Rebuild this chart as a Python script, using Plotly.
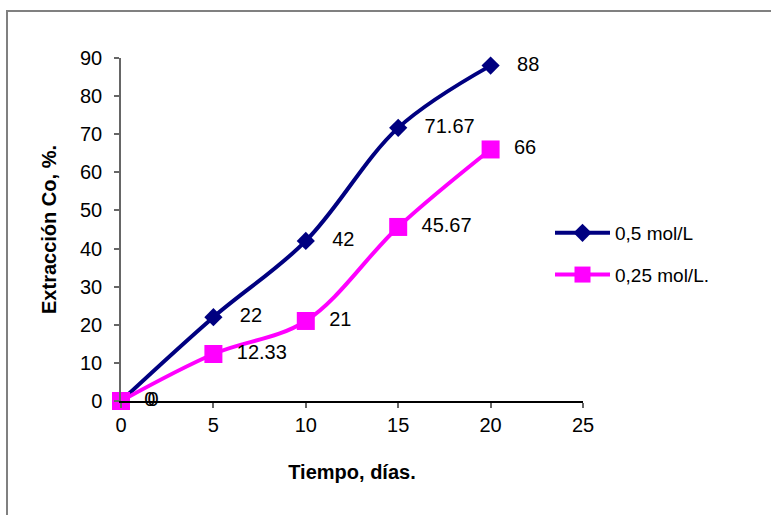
import plotly.graph_objects as go

dias = [0, 5, 10, 15, 20]
serie_05 = [0, 22, 42, 71.67, 88]
serie_025 = [0, 12.33, 21, 45.67, 66]
etiquetas_05 = ["0", "22", "42", "71.67", "88"]
etiquetas_025 = ["0", "12.33", "21", "45.67", "66"]
nombre_05 = "0,5 mol/L"
nombre_025 = "0,25 mol/L."

FONT = "Liberation Sans, Arial, sans-serif"
W, H = 771, 515
ML, MR, MT, MB = 121, 188, 58, 114
PW, PH = W - ML - MR, H - MT - MB

fig = go.Figure()
fig.add_trace(go.Scatter(
    x=dias, y=serie_05, name=nombre_05, mode="lines+markers+text",
    line=dict(color="#000080", width=4, shape="spline", smoothing=1),
    marker=dict(symbol="diamond", size=14, color="#000080"),
    text=["   " + t for t in etiquetas_05], textposition="middle right",
    textfont=dict(family=FONT, size=20, color="black"),
    legendgroup="a", cliponaxis=False,
))
fig.add_trace(go.Scatter(
    x=dias, y=serie_025, name=nombre_025, mode="lines+markers+text",
    line=dict(color="#FF00FF", width=4, shape="spline", smoothing=1),
    marker=dict(symbol="square", size=18, color="#FF00FF"),
    text=["  " + t for t in etiquetas_025], textposition="middle right",
    textfont=dict(family=FONT, size=20, color="black"),
    legendgroup="b", cliponaxis=False,
))

def px_x(p):
    return (p - ML) / PW

def px_y(p):
    return (H - MB - p) / PH

fig.update_layout(
    width=W, height=H,
    margin=dict(l=ML, r=MR, t=MT, b=MB),
    paper_bgcolor="white", plot_bgcolor="white",
    font=dict(family=FONT, size=20, color="black"),
    showlegend=True,
    legend=dict(
        x=px_x(550), y=px_y(254), xanchor="left", yanchor="middle",
        font=dict(family=FONT, size=19, color="black"),
        itemwidth=55, tracegroupgap=14, traceorder="grouped",
        bgcolor="rgba(0,0,0,0)",
    ),
    xaxis=dict(
        range=[0, 25], tickvals=[0, 5, 10, 15, 20, 25],
        showline=True, linecolor="black", linewidth=1.5,
        ticks="outside", ticklen=5, tickcolor="#666666", tickwidth=1.5,
        showgrid=False, zeroline=False,
        tickfont=dict(family=FONT, size=20, color="black"),
        title=dict(text="<b>Tiempo, días.</b>", font=dict(family=FONT, size=20, color="black"), standoff=30),
    ),
    yaxis=dict(
        range=[0, 90], tickvals=[0, 10, 20, 30, 40, 50, 60, 70, 80, 90],
        showline=True, linecolor="#666666", linewidth=1.5,
        ticks="outside", ticklen=5, tickcolor="#666666", tickwidth=1.5,
        showgrid=False, zeroline=False,
        tickfont=dict(family=FONT, size=20, color="black"),
        ticklabelstandoff=8,
        title=dict(text="<b>Extracción Co, %.</b>", font=dict(family=FONT, size=20, color="black"), standoff=18),
    ),
    shapes=[dict(
        type="rect", xref="paper", yref="paper",
        x0=px_x(7), x1=px_x(W + 10), y0=px_y(H + 10), y1=px_y(11),
        line=dict(color="#808080", width=2), fillcolor="rgba(0,0,0,0)", layer="below",
    )],
)

fig.write_html("out.html")
